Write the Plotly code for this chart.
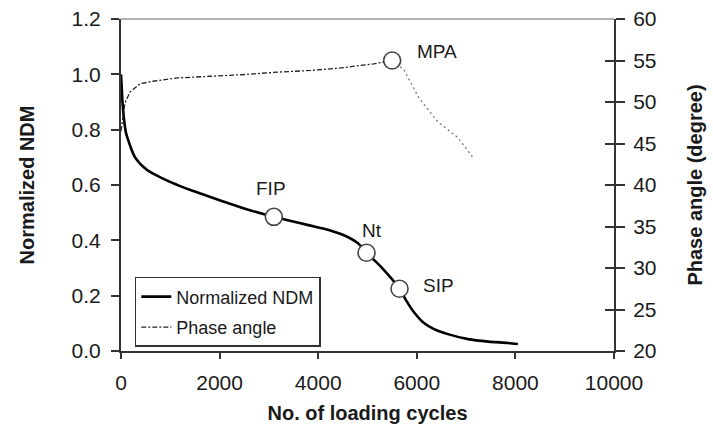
import plotly.graph_objects as go

# ---- data ----
ndm_cycles = [0, 15, 30, 60, 100, 150, 285, 530, 855, 1200, 1465, 2000, 2500, 3100, 3800,
              4100, 4500, 4800, 4980, 5270, 5650, 5780, 5940, 6145, 6350, 6630, 7040,
              7450, 7850, 8050]
ndm_values = [1.0, 0.95, 0.9, 0.84, 0.79, 0.76, 0.70, 0.654, 0.623, 0.596, 0.578, 0.545, 0.515, 0.485,
              0.455, 0.443, 0.42, 0.39, 0.355, 0.305, 0.225, 0.184, 0.141, 0.101, 0.079, 0.061, 0.043,
              0.034, 0.029, 0.025]

phase_cycles = [0, 20, 81, 183, 387, 651, 1139, 1811, 2482, 3174, 3845, 4456, 5127, 5500,
                5737, 6043, 6429, 6836, 7140]
phase_values = [46.5, 47.5, 49.9, 51.2, 52.2, 52.5, 52.9, 53.1, 53.3, 53.6, 53.8, 54.1, 54.6, 55.0,
                53.9, 50.5, 47.6, 45.7, 43.3]
mpa_index = 13  # index of the maximum phase angle point

key_labels = ["FIP", "Nt", "SIP"]
key_cycles = [3100, 4980, 5650]
key_ndm = [0.485, 0.355, 0.225]
mpa_label = "MPA"

x_ticks = [0, 2000, 4000, 6000, 8000, 10000]
ndm_ticks = [0.0, 0.2, 0.4, 0.6, 0.8, 1.0, 1.2]
phase_ticks = [20, 25, 30, 35, 40, 45, 50, 55, 60]

FONT = "Liberation Sans, Arial, sans-serif"
INK = "#1a1a1a"

fig = go.Figure()

fig.add_trace(go.Scatter(
    x=ndm_cycles, y=ndm_values, mode="lines", name="Normalized NDM",
    line=dict(color="black", width=2.6, shape="spline", smoothing=0.8),
    yaxis="y", legendgroup="a"))

fig.add_trace(go.Scatter(
    x=phase_cycles[:mpa_index + 1], y=phase_values[:mpa_index + 1], mode="lines",
    name="Phase angle",
    line=dict(color="#222", width=1.3, dash="5px,2px,2px,2px"),
    yaxis="y2", legendgroup="b"))

fig.add_trace(go.Scatter(
    x=phase_cycles[mpa_index:], y=phase_values[mpa_index:], mode="lines",
    name="Phase angle", showlegend=False,
    line=dict(color="#777", width=1.3, dash="2px,3px"),
    yaxis="y2", legendgroup="b"))

# key points on NDM curve
fig.add_trace(go.Scatter(
    x=key_cycles, y=key_ndm, mode="markers", showlegend=False,
    marker=dict(size=17, color="white", line=dict(color="#444", width=1.6)),
    yaxis="y"))
# MPA point
fig.add_trace(go.Scatter(
    x=[phase_cycles[mpa_index]], y=[phase_values[mpa_index]], mode="markers",
    showlegend=False,
    marker=dict(size=17, color="white", line=dict(color="#444", width=1.6)),
    yaxis="y2"))

# empty trace to carry the inner-tick overlay axis
fig.add_trace(go.Scatter(x=[], y=[], yaxis="y3", showlegend=False, hoverinfo="skip"))

label_font = dict(family=FONT, size=19, color=INK)
offsets = {"FIP": (-3, 28), "Nt": (5, 22), "SIP": (39, 3)}
annotations = []
for lab, cx, cy in zip(key_labels, key_cycles, key_ndm):
    dx, dy = offsets[lab]
    annotations.append(dict(x=cx, y=cy, xref="x", yref="y", text=lab, showarrow=False,
                            font=label_font, xshift=dx, yshift=dy))
annotations.append(dict(x=phase_cycles[mpa_index], y=phase_values[mpa_index], xref="x", yref="y2",
                        text=mpa_label, showarrow=False, font=label_font, xshift=45, yshift=9))

tick_font = dict(family=FONT, size=21, color=INK)
title_font = dict(family=FONT, size=20, color=INK)

fig.update_layout(
    width=713, height=430,
    margin=dict(l=121, r=99, t=19, b=79, autoexpand=False),
    paper_bgcolor="white", plot_bgcolor="white",
    showlegend=True,
    legend=dict(x=0.028, y=0.223, xanchor="left", yanchor="top",
                bgcolor="white", bordercolor="#333", borderwidth=1.5,
                font=dict(family=FONT, size=18, color=INK),
                tracegroupgap=4, itemwidth=30, entrywidth=180),
    xaxis=dict(range=[0, 10000], tickvals=x_ticks, ticktext=[str(v) for v in x_ticks],
               showgrid=False, zeroline=False, showline=True, linecolor="#333", linewidth=2,
               ticks="outside", ticklen=6, tickwidth=1.5, tickcolor="#333",
               tickfont=tick_font, ticklabelstandoff=6, automargin=False,
               title=dict(text="<b>No. of loading cycles</b>", font=title_font, standoff=13)),
    yaxis=dict(range=[0, 1.2], tickvals=ndm_ticks, ticktext=[f"{v:.1f}" for v in ndm_ticks],
               showgrid=False, zeroline=False, showline=True, linecolor="#333", linewidth=2,
               ticks="outside", ticklen=8, tickwidth=1.5, tickcolor="#333",
               tickfont=tick_font, ticklabelstandoff=6, automargin=False,
               title=dict(text="<b>Normalized NDM</b>", font=title_font, standoff=32)),
    yaxis2=dict(range=[20, 60], tickvals=phase_ticks, overlaying="y", side="right", anchor="x",
                showgrid=False, zeroline=False, showline=True, linecolor="#333", linewidth=2,
                ticks="outside", ticklen=9, tickwidth=1.5, tickcolor="#333",
                tickfont=tick_font, ticklabelstandoff=4, automargin=False,
                title=dict(text="<b>Phase angle (degree)</b>", font=title_font, standoff=32)),
    yaxis3=dict(range=[20, 60], tickvals=phase_ticks, overlaying="y", side="right", anchor="x",
                showgrid=False, zeroline=False, showline=False, showticklabels=False,
                ticks="inside", ticklen=9, tickwidth=1.5, tickcolor="#333", automargin=False),
    annotations=annotations,
    shapes=[dict(type="line", xref="paper", yref="paper", x0=0, x1=1, y0=1, y1=1,
                 line=dict(color="#999", width=1.5))],
)

fig.write_html("out.html")
